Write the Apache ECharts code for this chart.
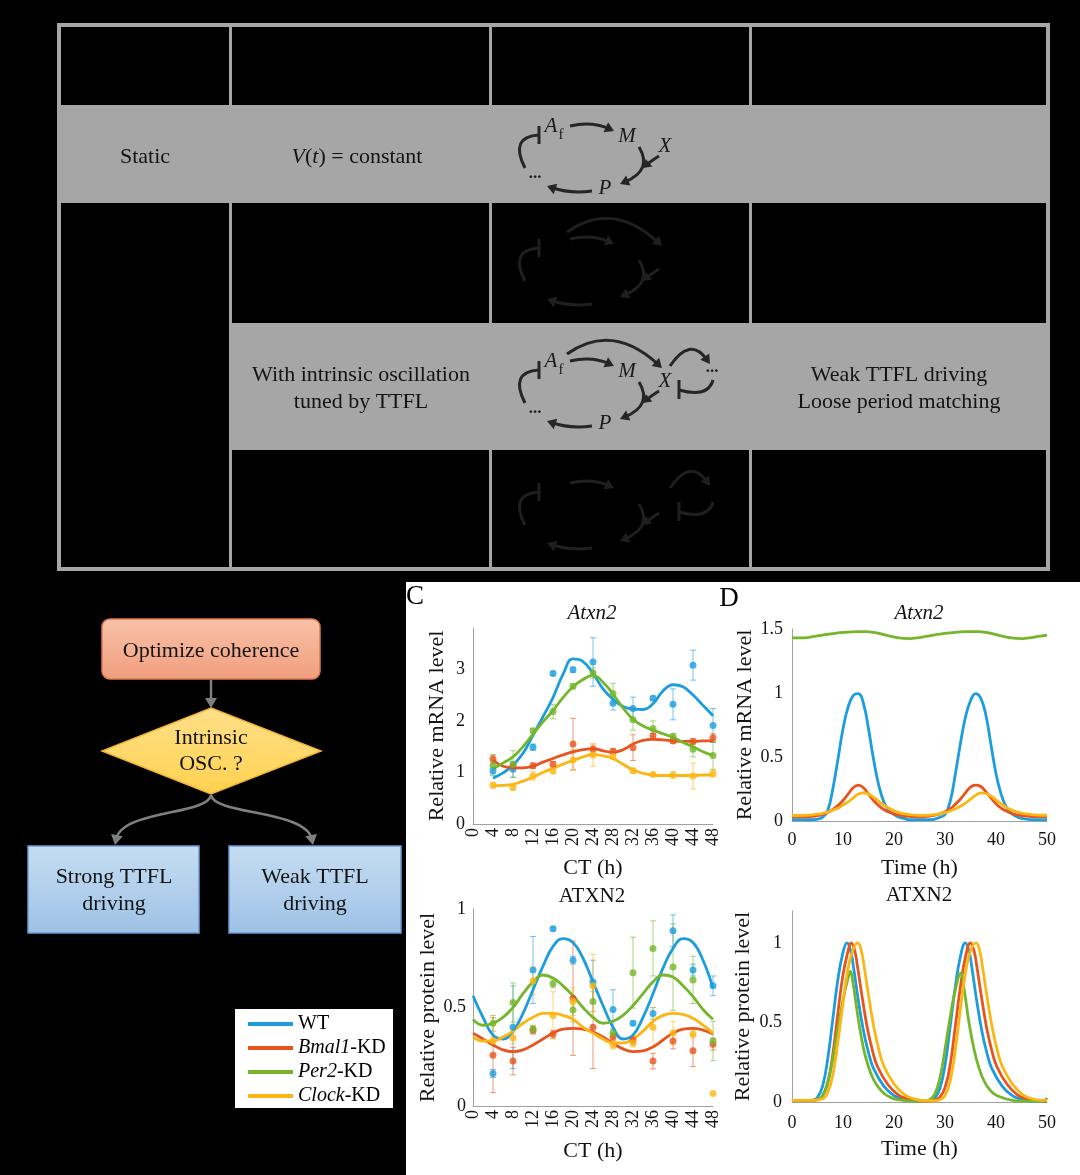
<!DOCTYPE html>
<html><head><meta charset="utf-8">
<script src="https://cdn.jsdelivr.net/npm/echarts@6/dist/echarts.min.js"></script>
<style>html,body{margin:0;padding:0;background:#000}#c{width:1080px;height:1175px}</style>
</head><body><div id="c"></div>
<script>
// ---------------- DATA ----------------
const groupNames = ['WT', 'Bmal1-KD', 'Per2-KD', 'Clock-KD'];
const groupColors = ['#1B9DDE', '#E8541E', '#74B72A', '#FCB614'];

// C (top) measured mRNA, CT hours
const ctTimes = [4, 8, 12, 16, 20, 24, 28, 32, 36, 40, 44, 48];
const mrnaWT = [1.03, 1.06, 1.49, 2.92, 2.99, 3.14, 2.34, 2.24, 2.44, 2.32, 3.08, 1.91];
const mrnaWTErr = [0.06, 0.15, 0.06, 0.04, 0.05, 0.47, 0.13, 0.22, 0.04, 0.30, 0.29, 0.33];
const mrnaBmal1 = [1.26, 1.12, 1.13, 1.16, 1.55, 1.45, 1.41, 1.48, 1.71, 1.61, 1.60, 1.67];
const mrnaBmal1Err = [0.08, 0.06, 0.05, 0.05, 0.50, 0.08, 0.05, 0.25, 0.05, 0.04, 0.05, 0.08];
const mrnaPer2 = [1.14, 1.16, 1.81, 2.18, 2.67, 2.93, 2.53, 2.02, 1.85, 1.70, 1.45, 1.33];
const mrnaPer2Err = [0.20, 0.26, 0.04, 0.14, 0.05, 0.10, 0.20, 0.20, 0.15, 0.05, 0.15, 0.27];
const mrnaClock = [0.75, 0.71, 0.93, 1.03, 1.24, 1.34, 1.31, 1.03, 0.96, 0.95, 0.93, 0.98];
const mrnaClockErr = [0.05, 0.05, 0.08, 0.06, 0.20, 0.22, 0.06, 0.05, 0.03, 0.06, 0.25, 0.07];

// C (top) fitted curves
const mrnaFitTimes = [4, 6, 8, 10, 12, 14, 16, 18, 20, 22, 24, 26, 28, 30, 32, 34, 36, 38, 40, 42, 44, 46, 48];
const mrnaFitWT = [0.89, 0.99, 1.14, 1.37, 1.72, 2.08, 2.45, 2.90, 3.20, 3.15, 2.92, 2.62, 2.42, 2.28, 2.23, 2.22, 2.33, 2.58, 2.70, 2.66, 2.50, 2.30, 2.10];
const mrnaFitBmal1 = [1.24, 1.12, 1.09, 1.09, 1.12, 1.20, 1.27, 1.34, 1.40, 1.44, 1.46, 1.42, 1.39, 1.44, 1.55, 1.62, 1.64, 1.63, 1.61, 1.60, 1.60, 1.61, 1.61];
const mrnaFitPer2 = [1.07, 1.18, 1.30, 1.50, 1.74, 1.98, 2.20, 2.45, 2.66, 2.80, 2.88, 2.75, 2.52, 2.25, 2.03, 1.90, 1.82, 1.75, 1.68, 1.58, 1.50, 1.40, 1.33];
const mrnaFitClock = [0.74, 0.75, 0.77, 0.83, 0.91, 1.00, 1.08, 1.16, 1.23, 1.30, 1.35, 1.32, 1.27, 1.16, 1.05, 0.98, 0.95, 0.94, 0.94, 0.94, 0.94, 0.95, 0.95];

// C (bottom) measured protein
const protWT = [0.165, 0.40, 0.69, 0.90, 0.74, 0.63, 0.49, 0.42, 0.47, 0.89, 0.69, 0.61];
const protWTErr = [0.02, 0.21, 0.17, 0.01, 0.02, 0.11, 0.10, 0.01, 0.03, 0.08, 0.03, 0.05];
const protBmal1 = [0.258, 0.228, 0.385, 0.364, 0.547, 0.40, 0.35, 0.335, 0.228, 0.33, 0.28, 0.314];
const protBmal1Err = [0.19, 0.07, 0.02, 0.02, 0.29, 0.21, 0.02, 0.02, 0.04, 0.04, 0.08, 0.03];
const protPer2 = [0.42, 0.525, 0.39, 0.62, 0.487, 0.53, 0.37, 0.677, 0.80, 0.705, 0.64, 0.33];
const protPer2Err = [0.04, 0.10, 0.02, 0.02, 0.06, 0.05, 0.02, 0.18, 0.14, 0.22, 0.12, 0.10];
const protClock = [0.33, 0.345, 0.636, 0.46, 0.53, 0.61, 0.31, 0.32, 0.40, 0.37, 0.365, 0.063];
const protClockErr = [0.02, 0.03, 0.07, 0.12, 0.07, 0.16, 0.02, 0.02, 0.10, 0.06, 0.02, 0];

// C (bottom) fitted curves
const protFitTimes = [0, 2, 4, 6, 8, 10, 12, 14, 16, 18, 20, 22, 24, 26, 28, 30, 32, 34, 36, 38, 40, 42, 44, 46, 48];
const protFitWT = [0.56, 0.45, 0.36, 0.34, 0.38, 0.47, 0.59, 0.71, 0.81, 0.85, 0.83, 0.75, 0.63, 0.51, 0.40, 0.34, 0.36, 0.45, 0.57, 0.70, 0.80, 0.85, 0.83, 0.74, 0.60];
const protFitBmal1 = [0.37, 0.34, 0.31, 0.285, 0.276, 0.285, 0.31, 0.34, 0.37, 0.39, 0.394, 0.39, 0.377, 0.35, 0.318, 0.29, 0.276, 0.28, 0.30, 0.335, 0.37, 0.39, 0.394, 0.385, 0.365];
const protFitPer2 = [0.44, 0.41, 0.42, 0.45, 0.50, 0.57, 0.63, 0.665, 0.65, 0.61, 0.56, 0.50, 0.45, 0.42, 0.43, 0.46, 0.51, 0.57, 0.63, 0.665, 0.655, 0.61, 0.555, 0.49, 0.44];
const protFitClock = [0.35, 0.33, 0.33, 0.35, 0.38, 0.42, 0.45, 0.47, 0.47, 0.46, 0.44, 0.40, 0.37, 0.34, 0.32, 0.32, 0.34, 0.38, 0.43, 0.46, 0.47, 0.465, 0.445, 0.41, 0.37];

// D (top) simulated mRNA, time 0..50 h
const simTimes = [0,1,2,3,4,5,6,7,8,9,10,11,12,13,14,15,16,17,18,19,20,21,22,23,24,25,26,27,28,29,30,31,32,33,34,35,36,37,38,39,40,41,42,43,44,45,46,47,48,49,50];
const simMrnaWT = [0.01,0.01,0.01,0.01,0.01,0.015,0.03,0.08,0.25,0.48,0.72,0.89,0.98,0.995,0.92,0.72,0.48,0.28,0.15,0.08,0.05,0.03,0.02,0.01,0.01,0.01,0.01,0.01,0.015,0.03,0.05,0.15,0.36,0.60,0.81,0.94,0.995,0.96,0.83,0.60,0.37,0.21,0.11,0.06,0.035,0.02,0.015,0.01,0.01,0.01,0.01];
const simMrnaBmal1 = [0.035,0.033,0.032,0.033,0.036,0.042,0.052,0.067,0.09,0.12,0.16,0.21,0.26,0.28,0.26,0.21,0.16,0.12,0.09,0.07,0.055,0.045,0.04,0.036,0.034,0.033,0.034,0.038,0.045,0.056,0.072,0.095,0.13,0.17,0.22,0.265,0.28,0.27,0.23,0.18,0.135,0.10,0.078,0.06,0.05,0.043,0.038,0.035,0.034,0.034,0.035];
const simMrnaPer2 = [1.432,1.430,1.430,1.433,1.440,1.447,1.453,1.459,1.464,1.469,1.473,1.476,1.478,1.480,1.480,1.478,1.474,1.466,1.456,1.446,1.437,1.430,1.426,1.425,1.428,1.433,1.440,1.447,1.454,1.460,1.465,1.470,1.474,1.477,1.479,1.480,1.480,1.478,1.474,1.466,1.456,1.446,1.437,1.430,1.426,1.425,1.428,1.433,1.440,1.446,1.452];
const simMrnaClock = [0.045,0.043,0.043,0.045,0.048,0.053,0.06,0.07,0.085,0.10,0.125,0.15,0.18,0.21,0.22,0.21,0.185,0.155,0.125,0.10,0.08,0.066,0.056,0.05,0.046,0.044,0.044,0.046,0.05,0.056,0.065,0.078,0.095,0.115,0.14,0.17,0.20,0.22,0.215,0.195,0.165,0.135,0.108,0.087,0.072,0.062,0.055,0.05,0.047,0.045,0.045];

// D (bottom) simulated protein
const simProtWTTimes = [0,2,4,5,6,7,8,9,10,10.8,11.5,12,13,14,15,16,18,20,22,24,26,27,28,29,30,31,32,33,34,34.7,35.2,36.2,37.2,38.2,39.2,41.2,43.2,45.2,47,50];
const simProtWT = [0.01,0.01,0.01,0.03,0.10,0.27,0.52,0.77,0.94,1.0,0.95,0.86,0.64,0.45,0.31,0.21,0.10,0.04,0.015,0.005,0.005,0.01,0.025,0.085,0.23,0.47,0.72,0.91,1.0,0.95,0.86,0.64,0.45,0.31,0.21,0.10,0.04,0.015,0.005,0.005];
const simProtBmal1Times = [0,3,5,6,7,8,9,10,11,11.6,12.3,12.8,13.8,14.8,15.8,16.8,18.8,20.8,22.8,25,27,28,29,30,31,32,33,34,35,35.7,36.2,37.2,38.2,39.2,40.2,42.2,44.2,46.2,48,50];
const simProtBmal1 = [0.01,0.01,0.015,0.04,0.12,0.30,0.56,0.80,0.95,1.0,0.95,0.86,0.65,0.46,0.32,0.22,0.11,0.045,0.018,0.006,0.006,0.012,0.03,0.09,0.23,0.47,0.72,0.91,1.0,0.95,0.86,0.65,0.46,0.32,0.22,0.11,0.045,0.018,0.008,0.006];
const simProtPer2Times = [0,4,5,6,7,8,9,10,11,11.4,12,13,14,15,16,17,18,19,20,22,24,26,27,28,29,30,31,32,33.1,33.7,34.7,35.7,36.7,37.7,38.7,39.7,41,43,45,48,49.5,50];
const simProtPer2 = [0.01,0.01,0.015,0.04,0.12,0.27,0.46,0.64,0.78,0.82,0.74,0.52,0.34,0.22,0.14,0.09,0.055,0.035,0.02,0.01,0.005,0.005,0.015,0.05,0.15,0.33,0.53,0.70,0.81,0.72,0.50,0.33,0.21,0.13,0.08,0.05,0.03,0.012,0.006,0.005,0.01,0.025];
const simProtClockTimes = [0,4,6,7,8,9,10,11,12,12.9,13.6,14.1,15.1,16.1,17.1,18.1,20.1,22.1,24.1,26,28,29,30,31,32,33,34,35,36.1,36.8,37.3,38.3,39.3,40.3,41.3,43.3,45.3,47.3,49,50];
const simProtClock = [0.01,0.01,0.02,0.06,0.17,0.38,0.62,0.84,0.96,1.0,0.95,0.86,0.65,0.46,0.32,0.22,0.11,0.045,0.018,0.008,0.008,0.015,0.04,0.13,0.32,0.58,0.81,0.95,1.0,0.95,0.86,0.65,0.46,0.32,0.22,0.11,0.045,0.018,0.01,0.01];

// ---------------- STYLE ----------------
const FONT = '"Liberation Serif","Times New Roman",serif';
const GRAY = '#a6a6a6';
const INK = '#262626';
const FAINT = '#1f1f1f';
const TXT = '#141414';
const BIG = 22;

const el = [];
function T(x, y, text, o) {
  el.push({type: 'text', x: x, y: y, z: 20, silent: true, style: Object.assign({
    text: text, fill: TXT, fontFamily: FONT, fontSize: BIG, align: 'center', verticalAlign: 'middle'
  }, o || {})});
}
function R(x, y, w, h, style, r, z) {
  el.push({type: 'rect', z: z == null ? 1 : z, silent: true, shape: {x: x, y: y, width: w, height: h, r: r || 0}, style: style});
}
function L(x1, y1, x2, y2, color, lw, z) {
  el.push({type: 'line', z: z == null ? 3 : z, silent: true, shape: {x1: x1, y1: y1, x2: x2, y2: y2}, style: {stroke: color, lineWidth: lw}});
}
function head(x2, y2, ux, uy, color, Lh, W, z) {
  const bx = x2 - ux * Lh, by = y2 - uy * Lh;
  el.push({type: 'polygon', z: z, silent: true, shape: {points: [[x2, y2], [bx - uy * W, by + ux * W], [bx + uy * W, by - ux * W]]}, style: {fill: color}});
}
function Q(x1, y1, cx, cy, x2, y2, color, lw, arrow, Lh, W, z) {
  z = z == null ? 10 : z;
  let ex = x2, ey = y2;
  if (arrow) {
    const dx = x2 - cx, dy = y2 - cy, d = Math.hypot(dx, dy), ux = dx / d, uy = dy / d;
    ex = x2 - ux * Lh * 0.6; ey = y2 - uy * Lh * 0.6;
    head(x2, y2, ux, uy, color, Lh, W, z);
  }
  el.push({type: 'bezierCurve', z: z, silent: true, shape: {x1: x1, y1: y1, cpx1: cx, cpy1: cy, x2: ex, y2: ey}, style: {stroke: color, lineWidth: lw, fill: 'none'}});
}
function C3(x1, y1, c1x, c1y, c2x, c2y, x2, y2, color, lw, Lh, W) {
  const dx = x2 - c2x, dy = y2 - c2y, d = Math.hypot(dx, dy), ux = dx / d, uy = dy / d;
  head(x2, y2, ux, uy, color, Lh, W, 10);
  el.push({type: 'bezierCurve', z: 10, silent: true, shape: {x1: x1, y1: y1, cpx1: c1x, cpy1: c1y, cpx2: c2x, cpy2: c2y, x2: x2 - ux * Lh * 0.6, y2: y2 - uy * Lh * 0.6}, style: {stroke: color, lineWidth: lw, fill: 'none'}});
}

// ---------------- TABLE ----------------
R(60, 105, 988, 98, {fill: GRAY});
R(230, 323, 818, 127, {fill: GRAY});
R(59, 25, 989, 544, {fill: 'none', stroke: GRAY, lineWidth: 4}, 0, 2);
[230.5, 490.5, 750.5].forEach(x => L(x, 25, x, 569, GRAY, 3, 2));
L(59, 106.5, 1048, 106.5, GRAY, 3, 2);
L(59, 201.5, 1048, 201.5, GRAY, 3, 2);
L(230, 324.5, 1048, 324.5, GRAY, 3, 2);
L(230, 448.5, 1048, 448.5, GRAY, 3, 2);

T(145, 157, 'Static');
T(357, 157, '{i|V}({i|t}) = constant', {rich: {i: {fontStyle: 'italic', fontFamily: FONT, fontSize: BIG, fill: TXT}}});
T(361, 375, 'With intrinsic oscillation');
T(361, 402, 'tuned by TTFL');
T(899, 375, 'Weak TTFL driving');
T(899, 402, 'Loose period matching');

function net(dy, color, o) {
  const lw = 3, Lh = 9, W = 5.5;
  Q(525, 403 + dy, 509, 372 + dy, 539, 370 + dy, color, lw, false);
  L(539, 361 + dy, 539, 379 + dy, color, lw, 10);
  Q(570, 361 + dy, 592, 356 + dy, 614, 366 + dy, color, lw, true, Lh, W);
  Q(639, 382 + dy, 653, 405 + dy, 620, 419 + dy, color, lw, true, Lh, W);
  Q(659, 391 + dy, 651, 396 + dy, 643, 403 + dy, color, lw, true, 8, 5);
  Q(592, 426 + dy, 570, 429 + dy, 547, 421 + dy, color, lw, true, Lh, W);
  if (o.big) Q(567, 354 + dy, 612, 322 + dy, 662, 368 + dy, color, lw, true, Lh, W);
  if (o.loop) {
    Q(670, 366 + dy, 690, 336 + dy, 710, 364 + dy, color, lw, true, Lh, W);
    Q(713, 380 + dy, 708, 398 + dy, 679, 390 + dy, color, lw, false);
    L(679, 380 + dy, 679, 399 + dy, color, lw, 10);
  }
  if (o.text) {
    const it = {fontStyle: 'italic', fontSize: 21, fill: '#1a1a1a'};
    T(551, 361 + dy, 'A', it);
    T(561, 370 + dy, 'f', {fontSize: 15, fill: '#1a1a1a'});
    T(627, 371 + dy, 'M', it);
    T(665, 381 + dy, 'X', it);
    T(605, 423 + dy, 'P', it);
    T(535, 417 + dy, '...', {fontSize: 17, verticalAlign: 'bottom', fill: '#1a1a1a', fontWeight: 'bold'});
    if (o.loop) T(712, 376 + dy, '...', {fontSize: 17, verticalAlign: 'bottom', fill: '#1a1a1a', fontWeight: 'bold'});
  }
}
net(-235, INK, {text: true});
net(-122, FAINT, {big: true});
net(0, INK, {text: true, big: true, loop: true});
net(122, FAINT, {loop: true});

// ---------------- WHITE PANEL ----------------
R(406, 582, 674, 593, {fill: '#fff'}, 0, -5);
T(415, 597, 'C', {fontSize: 27, fill: '#000'});
T(729, 599, 'D', {fontSize: 27, fill: '#000'});
T(592, 613, 'Atxn2', {fontStyle: 'italic', fontSize: 21});
T(592, 896, 'ATXN2', {fontSize: 21});
T(919, 613, 'Atxn2', {fontStyle: 'italic', fontSize: 21});
T(919, 895, 'ATXN2', {fontSize: 21});

// ---------------- FLOWCHART ----------------
const AR = '#7f7f7f';
R(102, 619, 218, 60, {fill: new echarts.graphic.LinearGradient(0, 0, 0, 1, [{offset: 0, color: '#f8c2a8'}, {offset: 1, color: '#f19e7d'}]), stroke: '#dd7a50', lineWidth: 1.5}, 8, 5);
T(211, 651, 'Optimize coherence');
L(211, 680, 211, 700, AR, 2.5, 10);
head(211, 708, 0, 1, AR, 10, 6, 10);
el.push({type: 'polygon', z: 5, silent: true, shape: {points: [[211, 708], [321, 751], [211, 794], [102, 751]]},
  style: {fill: new echarts.graphic.LinearGradient(0, 0, 0, 1, [{offset: 0, color: '#ffe08a'}, {offset: 1, color: '#ffd24f'}]), stroke: '#f2b43a', lineWidth: 1.5}});
T(211, 738, 'Intrinsic');
T(211, 764, 'OSC. ?');
C3(211, 795, 208, 815, 122, 810, 115, 845, AR, 2.5, 10, 6);
C3(211, 795, 214, 815, 306, 810, 313, 845, AR, 2.5, 10, 6);
const blueFill = () => new echarts.graphic.LinearGradient(0, 0, 0, 1, [{offset: 0, color: '#c6ddf2'}, {offset: 1, color: '#9dc2e6'}]);
R(28, 846, 171, 87, {fill: blueFill(), stroke: '#6c9bd2', lineWidth: 1.5}, 0, 5);
R(229, 846, 172, 87, {fill: blueFill(), stroke: '#6c9bd2', lineWidth: 1.5}, 0, 5);
T(114, 877, 'Strong TTFL');
T(114, 904, 'driving');
T(315, 877, 'Weak TTFL');
T(315, 904, 'driving');

// legend box background
R(235, 1009, 158, 99, {fill: '#fff'}, 0, -5);

// ---------------- AXES ----------------
const lblStyle = {color: TXT, fontFamily: FONT, fontSize: 18};
const nameStyle = {color: TXT, fontFamily: FONT, fontSize: 22};
const axLine = {show: true, onZero: false, lineStyle: {color: '#a0a0a0', width: 1}};
function xAx(grid, max, interval, name, rotate, margin, gap) {
  return {type: 'value', gridIndex: grid, min: 0, max: max, interval: interval, name: name, nameLocation: 'middle', nameGap: gap,
    nameTextStyle: nameStyle, axisLine: axLine, axisTick: {show: false}, splitLine: {show: false},
    axisLabel: Object.assign({rotate: rotate, margin: margin}, lblStyle)};
}
function yAx(grid, max, interval, name, margin, gap) {
  return {type: 'value', gridIndex: grid, min: 0, max: max, interval: interval, name: name, nameLocation: 'middle', nameGap: gap,
    nameTextStyle: nameStyle, axisLine: axLine, axisTick: {show: false}, splitLine: {show: false},
    axisLabel: Object.assign({margin: margin, showMaxLabel: max === 1 || max === 1.5}, lblStyle)};
}

// ---------------- SERIES ----------------
const series = [];
function pairs(xs, ys) { return xs.map((x, i) => [x, ys[i]]); }
function addFit(grid, idx, xs, ys) {
  series.push({type: 'line', name: groupNames[idx], xAxisIndex: grid, yAxisIndex: grid, data: pairs(xs, ys),
    smooth: 0.45, showSymbol: false, symbol: 'none', z: 3, silent: true,
    lineStyle: {color: groupColors[idx], width: 2.8}, itemStyle: {color: groupColors[idx]}});
}
function addPoints(grid, idx, xs, ys, errs) {
  const color = groupColors[idx];
  series.push({type: 'custom', name: groupNames[idx], xAxisIndex: grid, yAxisIndex: grid, z: 2, silent: true,
    data: xs.map((x, i) => [x, ys[i] - errs[i], ys[i] + errs[i]]), encode: {x: 0, y: [1, 2]},
    itemStyle: {color: color},
    renderItem: function (params, api) {
      const x = api.value(0), lo = api.value(1), hi = api.value(2);
      if (hi - lo < 1e-6) return {type: 'group', children: []};
      const a = api.coord([x, hi]), b = api.coord([x, lo]);
      const st = {stroke: color, lineWidth: 1, opacity: 0.6};
      return {type: 'group', children: [
        {type: 'line', shape: {x1: a[0], y1: a[1], x2: b[0], y2: b[1]}, style: st},
        {type: 'line', shape: {x1: a[0] - 3, y1: a[1], x2: a[0] + 3, y2: a[1]}, style: st},
        {type: 'line', shape: {x1: b[0] - 3, y1: b[1], x2: b[0] + 3, y2: b[1]}, style: st}
      ]};
    }});
  series.push({type: 'scatter', name: groupNames[idx], xAxisIndex: grid, yAxisIndex: grid, data: pairs(xs, ys),
    symbol: 'circle', symbolSize: 7, z: 4, silent: true, itemStyle: {color: color}});
}

// fits first (legend icon source)
addFit(0, 0, mrnaFitTimes, mrnaFitWT);
addFit(0, 1, mrnaFitTimes, mrnaFitBmal1);
addFit(0, 2, mrnaFitTimes, mrnaFitPer2);
addFit(0, 3, mrnaFitTimes, mrnaFitClock);
addFit(1, 0, protFitTimes, protFitWT);
addFit(1, 1, protFitTimes, protFitBmal1);
addFit(1, 2, protFitTimes, protFitPer2);
addFit(1, 3, protFitTimes, protFitClock);
addFit(2, 0, simTimes, simMrnaWT);
addFit(2, 1, simTimes, simMrnaBmal1);
addFit(2, 2, simTimes, simMrnaPer2);
addFit(2, 3, simTimes, simMrnaClock);
addFit(3, 0, simProtWTTimes, simProtWT);
addFit(3, 1, simProtBmal1Times, simProtBmal1);
addFit(3, 2, simProtPer2Times, simProtPer2);
addFit(3, 3, simProtClockTimes, simProtClock);

addPoints(0, 0, ctTimes, mrnaWT, mrnaWTErr);
addPoints(0, 1, ctTimes, mrnaBmal1, mrnaBmal1Err);
addPoints(0, 2, ctTimes, mrnaPer2, mrnaPer2Err);
addPoints(0, 3, ctTimes, mrnaClock, mrnaClockErr);
addPoints(1, 0, ctTimes, protWT, protWTErr);
addPoints(1, 1, ctTimes, protBmal1, protBmal1Err);
addPoints(1, 2, ctTimes, protPer2, protPer2Err);
addPoints(1, 3, ctTimes, protClock, protClockErr);

const chart = echarts.init(document.getElementById('c'), null, {renderer: 'canvas', width: 1080, height: 1175});
chart.setOption({
  animation: false,
  backgroundColor: '#000',
  textStyle: {fontFamily: FONT},
  grid: [
    {left: 473, top: 628, width: 240, height: 196, outerBoundsMode: 'none'},
    {left: 473, top: 909, width: 240, height: 197, outerBoundsMode: 'none'},
    {left: 792, top: 629, width: 255, height: 192, outerBoundsMode: 'none'},
    {left: 792, top: 911, width: 255, height: 191, outerBoundsMode: 'none'}
  ],
  xAxis: [
    xAx(0, 48, 4, 'CT (h)', 90, 4, 33),
    xAx(1, 48, 4, 'CT (h)', 90, 4, 34),
    xAx(2, 50, 10, 'Time (h)', 0, 10, 36),
    xAx(3, 50, 10, 'Time (h)', 0, 12, 36)
  ],
  yAxis: [
    yAx(0, 3.8, 1, 'Relative mRNA level', 8, 25),
    yAx(1, 1, 0.5, 'Relative protein level', 7, 32),
    yAx(2, 1.5, 0.5, 'Relative mRNA level', 9, 34),
    yAx(3, 1.2, 0.5, 'Relative protein level', 10, 38)
  ],
  legend: {
    left: 235, top: 1009, orient: 'vertical', padding: [5, 8, 4, 13], itemGap: 4,
    itemWidth: 45, itemHeight: 4, icon: 'rect', selectedMode: false,
    data: groupNames.map((n, i) => ({name: n, itemStyle: {color: groupColors[i]}})),
    formatter: function (name) {
      if (name === 'WT') return 'WT';
      const parts = name.split('-');
      return '{i|' + parts[0] + '}-' + parts[1];
    },
    textStyle: {fontFamily: FONT, fontSize: 20, color: '#000', lineHeight: 20,
      rich: {i: {fontStyle: 'italic', fontFamily: FONT, fontSize: 20, color: '#000', lineHeight: 20}}}
  },
  graphic: {elements: el},
  series: series
});
</script></body></html>
